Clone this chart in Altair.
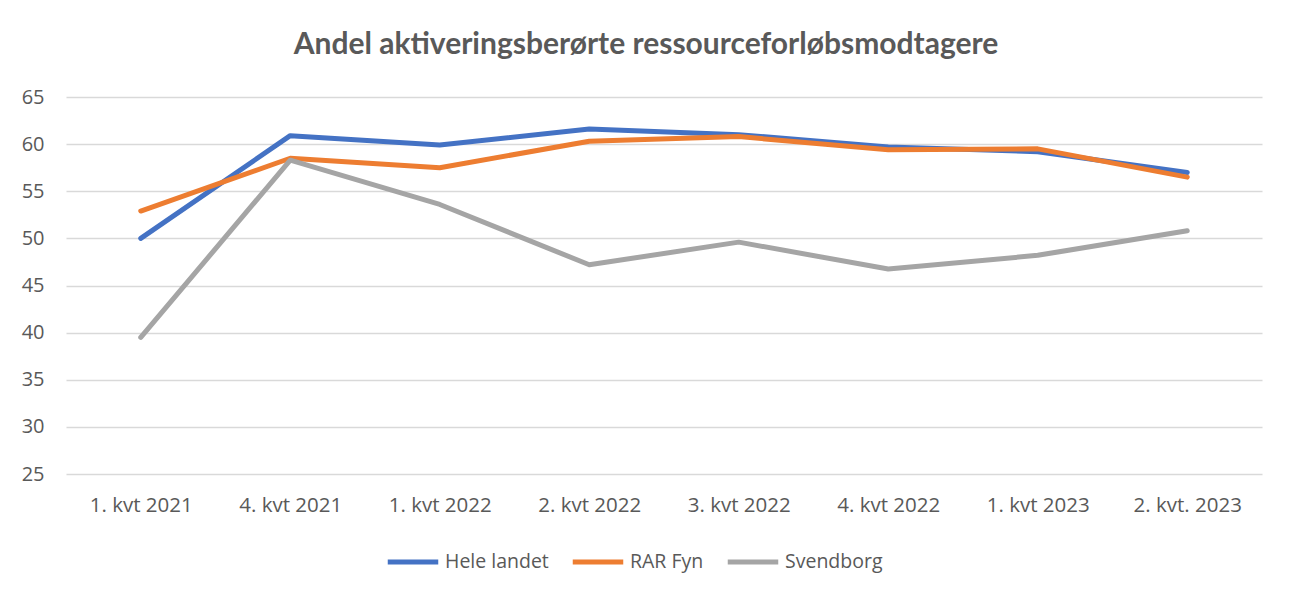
import altair as alt
import pandas as pd

categories = ["1. kvt 2021", "4. kvt 2021", "1. kvt 2022", "2. kvt 2022",
              "3. kvt 2022", "4. kvt 2022", "1. kvt 2023", "2. kvt. 2023"]
hele_landet = [50.0, 60.9, 59.9, 61.6, 61.0, 59.7, 59.2, 57.0]
rar_fyn = [52.9, 58.5, 57.5, 60.3, 60.8, 59.4, 59.5, 56.5]
svendborg = [39.5, 58.3, 53.6, 47.2, 49.6, 46.75, 48.2, 50.8]
series_names = ["Hele landet", "RAR Fyn", "Svendborg"]
series_colors = ["#4472C4", "#ED7D31", "#A5A5A5"]

rows = []
for name, vals in zip(series_names, [hele_landet, rar_fyn, svendborg]):
    for c, v in zip(categories, vals):
        rows.append({"Kvartal": c, "Serie": name, "Værdi": v})
df = pd.DataFrame(rows)

chart = alt.Chart(df).mark_line(strokeWidth=5, strokeCap="round", strokeJoin="round").encode(
    x=alt.X("Kvartal:N", sort=categories, title=None,
            scale=alt.Scale(type="point", padding=0.5),
            axis=alt.Axis(labelAngle=0, labelFontSize=20.5, labelColor="#595959",
                          labelFont="Open Sans", labelPadding=21, ticks=False,
                          domain=False, grid=False)),
    y=alt.Y("Værdi:Q", title=None,
            scale=alt.Scale(domain=[25, 65], nice=False, zero=False),
            axis=alt.Axis(values=[25, 30, 35, 40, 45, 50, 55, 60, 65],
                          labelFontSize=20, labelColor="#595959", labelFont="Open Sans",
                          labelPadding=22, ticks=False, domain=False,
                          gridColor="#D9D9D9", gridWidth=1.5)),
    color=alt.Color("Serie:N", sort=series_names,
                    scale=alt.Scale(domain=series_names, range=series_colors),
                    legend=alt.Legend(title=None, orient="none", direction="horizontal",
                                      legendX=319, legendY=437,
                                      symbolType="stroke", symbolSize=2550,
                                      symbolStrokeWidth=5, labelFontSize=19.5,
                                      labelColor="#595959", labelFont="Open Sans",
                                      labelOffset=4, columnPadding=13)),
).properties(
    width=1196, height=377,
    title=alt.TitleParams("Andel aktiveringsberørte ressourceforløbsmodtagere",
                          fontSize=30, font="Lato", fontWeight="bold", color="#595959",
                          anchor="middle", dx=-18, offset=27),
    autosize=alt.AutoSizeParams(type="none"),
    padding={"left": 58, "top": 89, "right": 20, "bottom": 118},
).configure_view(stroke=None)

chart.save("out.html", embed_options={"renderer": "svg", "actions": False})
